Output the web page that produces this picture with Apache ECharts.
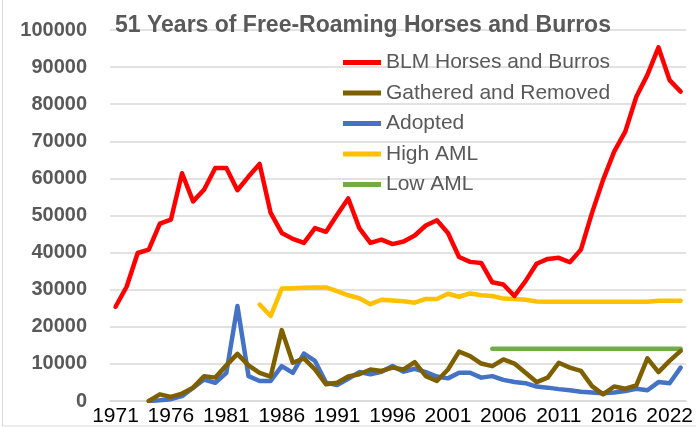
<!DOCTYPE html>
<html>
<head>
<meta charset="utf-8">
<script src="https://cdn.jsdelivr.net/npm/echarts@6/dist/echarts.min.js"></script>
<style>
  html, body { margin: 0; padding: 0; background: #fff; }
  #main { width: 696px; height: 427px; }
</style>
</head>
<body>
<div id="main"></div>
<script>
// years 1971 - 2022
var years = [];
for (var y = 1971; y <= 2022; y++) years.push(String(y));

var blm = [25400, 30800, 39900, 40800, 47800, 48900, 61400, 53800, 57000, 62800,
  62800, 56800, 60500, 63900, 50700, 45300, 43700, 42600, 46600, 45600,
  50200, 54600, 46600, 42600, 43500, 42300, 43000, 44600, 47300, 48700,
  45300, 38800, 37500, 37200, 32000, 31400, 28300, 32300, 37000, 38300,
  38600, 37400, 40800, 50700, 59600, 67200, 72600, 82000, 87900, 95300,
  86500, 83400];

var gathered = [null, null, null, 0, 1800, 1100, 2000, 3600, 6700, 6300,
  9600, 12700, 9600, 7600, 6600, 19100, 10300, 11500, 8500, 4500,
  4900, 6600, 7200, 8500, 8100, 9000, 8500, 10500, 6700, 5400,
  8500, 13300, 12100, 10100, 9400, 11200, 10100, 7600, 5100, 6300,
  10300, 9000, 8100, 4000, 1800, 3900, 3300, 4200, 11500, 7800,
  10800, 13500];

var adopted = [null, null, null, 0, 200, 500, 1300, 3600, 5800, 4900,
  7600, 25600, 6700, 5400, 5400, 9400, 7600, 12800, 10800, 4900,
  4300, 6000, 7800, 7200, 7900, 9400, 7900, 8700, 7800, 6600,
  6100, 7600, 7600, 6300, 6700, 5700, 5100, 4800, 3900, 3600,
  3200, 2900, 2500, 2300, 2100, 2300, 2700, 3300, 2900, 5100,
  4800, 9000];

var highAml = [null, null, null, null, null, null, null, null, null, null,
  null, null, null, 26000, 22900, 30300, 30400, 30500, 30600, 30600,
  29600, 28500, 27700, 26100, 27300, 27100, 26900, 26500, 27500, 27500,
  28900, 28100, 29000, 28500, 28300, 27600, 27500, 27300, 26800, 26750,
  26750, 26750, 26750, 26750, 26750, 26750, 26750, 26750, 26750, 27000,
  27000, 27000];

var lowAml = [null, null, null, null, null, null, null, null, null, null,
  null, null, null, null, null, null, null, null, null, null,
  null, null, null, null, null, null, null, null, null, null,
  null, null, null, null, 14100, 14100, 14100, 14100, 14100, 14100,
  14100, 14100, 14100, 14100, 14100, 14100, 14100, 14100, 14100, 14100,
  14100, 14100];

var names = ['BLM Horses and Burros', 'Gathered and Removed', 'Adopted', 'High AML', 'Low AML'];
var colors = ['#FF0000', '#7F6000', '#4472C4', '#FFC000', '#70AD47'];
var seriesData = [blm, gathered, adopted, highAml, lowAml];

var chart = echarts.init(document.getElementById('main'));

var series = [];
for (var i = 0; i < names.length; i++) {
    series.push({
        name: names[i],
        type: 'line',
        data: seriesData[i],
        symbol: 'none',
        showSymbol: false,
        connectNulls: false,
        z: 10 - i,
        lineStyle: { color: colors[i], width: 4.5, cap: 'round', join: 'round' },
        itemStyle: { color: colors[i] }
    });
}

var option = {
    animation: false,
    color: colors,
    title: {
        text: '51 Years of Free-Roaming Horses and Burros',
        left: 110,
        top: 9,
        textStyle: { color: '#595959', fontSize: 23, fontWeight: 'bold', fontFamily: 'Liberation Sans' }
    },
    legend: {
        orient: 'vertical',
        left: 338,
        top: 47,
        icon: 'rect',
        itemWidth: 38,
        itemHeight: 5,
        itemGap: 9.5,
        textStyle: { color: '#595959', fontSize: 21, fontFamily: 'Liberation Sans' },
        data: names
    },
    grid: { left: 110, right: 9, top: 30, bottom: 25.5, containLabel: false },
    xAxis: {
        type: 'category',
        data: years,
        boundaryGap: true,
        axisLine: { show: true, lineStyle: { color: '#d9d9d9', width: 1.5 } },
        axisTick: { show: false },
        axisLabel: {
            color: '#000',
            fontSize: 21,
            fontFamily: 'Liberation Sans',
            margin: 5,
            interval: function (idx, val) {
                return (idx % 5 === 0 && +val <= 2016) || val === '2022';
            },
            formatter: function (val) {
                return val === '2022' ? '{last|' + val + '}' : val;
            },
            rich: {
                last: { color: '#000', fontSize: 21, fontFamily: 'Liberation Sans', padding: [0, 22, 0, 0] }
            }
        }
    },
    yAxis: {
        type: 'value',
        min: 0,
        max: 100000,
        interval: 10000,
        axisLine: { show: false },
        axisTick: { show: false },
        splitLine: { lineStyle: { color: '#d9d9d9', width: 1.5 } },
        axisLabel: {
            color: '#595959',
            fontSize: 20,
            fontWeight: 'bold',
            fontFamily: 'Liberation Sans',
            margin: 23,
            formatter: function (v) { return String(v); }
        }
    },
    graphic: [{
        type: 'rect',
        shape: { x: 2.5, y: -10, width: 800, height: 436 },
        style: { fill: 'none', stroke: '#d9d9d9', lineWidth: 1 },
        silent: true
    }],
    series: series
};

chart.setOption(option);
</script>
</body>
</html>
